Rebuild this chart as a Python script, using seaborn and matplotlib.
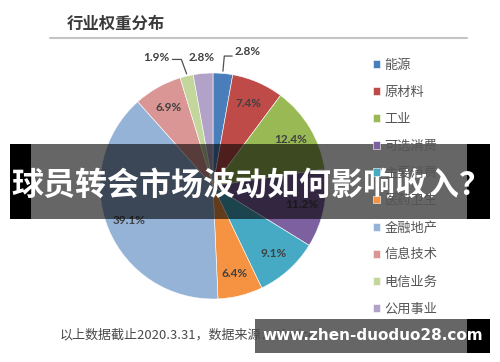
import numpy as np
import matplotlib
matplotlib.use("Agg")
import matplotlib.pyplot as plt
from matplotlib.patches import Rectangle
from matplotlib.lines import Line2D
import seaborn as sns

# data
sectors = ["能源", "原材料", "工业", "可选消费", "主要消费", "医药卫生",
           "金融地产", "信息技术", "电信业务", "公用事业"]
weights = [2.8, 7.4, 12.4, 11.2, 9.1, 6.4, 39.1, 6.9, 1.9, 2.8]
colors = ["#4a7ebb", "#be4b48", "#98b954", "#7d60a0", "#46aac5", "#f59343",
          "#95b3d7", "#d99694", "#c3d69b", "#b3a2c7"]
title = "行业权重分布"
footer = "以上数据截止2020.3.31，数据来源：Choice"
banner = "球员转会市场波动如何影响收入？"
watermark = "www.zhen-duoduo28.com"

# labels placed outside for the thin slices (data coords)
outside = {0: (0.31, 1.19), 8: (-0.50, 1.135), 9: (-0.105, 1.135)}

sns.set_theme(style="white")
plt.rcParams["font.family"] = ["Noto Sans CJK SC", "DejaVu Sans"]

W, H = 500, 362
fig = plt.figure(figsize=(5, 3.62), dpi=100)
fig.patch.set_facecolor("white")

def fx(px):
    return px / W

def fy(py):
    return 1 - py / H

# pie axes: centre (213,186), radius 113 px
ax = fig.add_axes([fx(100), fy(299), 226 / W, 226 / H])
wedges, _ = ax.pie(weights, colors=colors, startangle=90, counterclock=False,
                   wedgeprops=dict(edgecolor="white", linewidth=0.4))
ax.set_xlim(-1, 1)
ax.set_ylim(-1, 1)
ax.set_aspect("equal")
ax.axis("off")

for i, w in enumerate(wedges):
    ang = np.deg2rad((w.theta1 + w.theta2) / 2)
    txt = f"{weights[i]:.1f}%"
    if i in outside:
        tx, ty = outside[i]
        ax.text(tx, ty, txt, ha="center", va="center", fontsize=8.5,
                family="Lato", fontweight="bold", color="#404040")
    else:
        r = 0.8
        ax.text(r * np.cos(ang), r * np.sin(ang), txt, ha="center", va="center",
                fontsize=8.5, family="Lato", fontweight="bold", color="#404040")

# leader lines for the outside labels
for i, (sx, sy) in [(8, (-0.36, 1.12)), (0, (0.17, 1.15))]:
    ang = np.deg2rad((wedges[i].theta1 + wedges[i].theta2) / 2)
    ex, ey = 1.0 * np.cos(ang), 1.0 * np.sin(ang)
    if i == 8:
        xs, ys = [sx, sx + 0.08, ex], [sy, sy, ey + 0.02]
    else:
        xs, ys = [sx, sx - 0.07, ex], [sy, sy, ey + 0.02]
    ax.add_line(Line2D(xs, ys, color="#505050", lw=0.9, clip_on=False))

# legend
leg = fig.legend(wedges, sectors, loc="upper left",
                 bbox_to_anchor=(fx(366), fy(52)), frameon=False,
                 fontsize=9.5, handlelength=0.55, handleheight=0.55,
                 handletextpad=0.35, labelspacing=1.07, borderpad=0)
for t in leg.get_texts():
    t.set_color("#555555")

# title and rule
fig.text(fx(67), fy(24), title, ha="left", va="center", fontsize=11.8,
         fontweight="bold", color="#3a3a3a")
fig.add_artist(Line2D([fx(50), fx(467)], [fy(38), fy(38)], color="#c4c4c4", lw=1.5))

# footer
fig.text(fx(60), fy(335), footer, ha="left", va="center", fontsize=9.4, color="#4a4a4a")

# banner overlay
fig.add_artist(Rectangle((fx(31), fy(219)), fx(467) - fx(31), (219 - 144) / H,
                         facecolor="black", alpha=0.6, edgecolor="none"))
fig.add_artist(Rectangle((fx(10), fy(219)), fx(31) - fx(10), (219 - 144) / H,
                         facecolor="black", edgecolor="none"))
fig.add_artist(Rectangle((fx(467), fy(219)), fx(490) - fx(467), (219 - 144) / H,
                         facecolor="black", edgecolor="none"))
fig.text(fx(11), fy(186), banner, ha="left", va="center", fontsize=23,
         fontweight="bold", color="white")

# watermark box
fig.add_artist(Rectangle((fx(255), fy(353)), fx(467) - fx(255), (353 - 319) / H,
                         facecolor="black", alpha=0.6, edgecolor="none"))
fig.add_artist(Rectangle((fx(467), fy(353)), fx(490) - fx(467), (353 - 319) / H,
                         facecolor="black", edgecolor="none"))
fig.text(fx(262), fy(336), watermark, ha="left", va="center", fontsize=11,
         fontweight="bold", color="white", family="DejaVu Sans")

fig.savefig("out.png", dpi=100)
